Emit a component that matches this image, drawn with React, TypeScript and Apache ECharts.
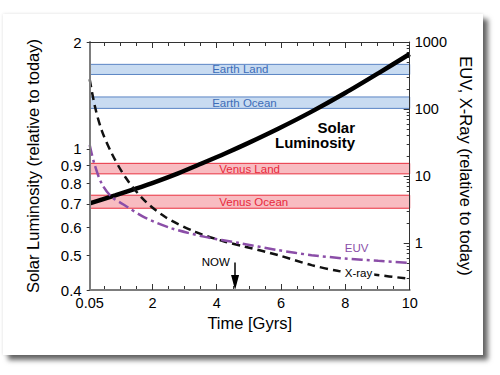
import React, { useEffect, useRef } from "react";
import * as echarts from "echarts";

// ---------- data ----------
const timeLabels = [0.05, 2, 4, 6, 8, 10];
const timeMajorTicks = [2, 4, 6, 8, 10];
const timeMinorTicks = [0.5, 1, 1.5, 2.5, 3, 3.5, 4.5, 5, 5.5, 6.5, 7, 7.5, 8.5, 9, 9.5];
const lumTicks = [0.4, 0.5, 0.6, 0.7, 0.8, 0.9, 1, 2];
const fluxMajorTicks = [1, 10, 100, 1000];
const fluxMinorTicks = [
  0.2, 0.3, 0.4, 0.5, 0.6, 0.7, 0.8, 0.9,
  2, 3, 4, 5, 6, 7, 8, 9,
  20, 30, 40, 50, 60, 70, 80, 90,
  200, 300, 400, 500, 600, 700, 800, 900,
];

const solarTime = [0.05, 0.84, 1.46, 2.08, 2.8, 3.53, 4.26, 4.94, 5.91, 6.95, 7.99, 9.02, 10];
const solarLum = [0.702, 0.739, 0.771, 0.806, 0.853, 0.909, 0.97, 1.034, 1.139, 1.273, 1.436, 1.632, 1.85];

const xrayTime = [0.05, 0.215, 0.42, 0.735, 1.15, 1.72, 2.39, 3.33, 4.26, 4.88, 5.91, 6.95, 7.79, 8.87, 10];
const xrayFlux = [277, 108, 48.6, 21.8, 9.77, 4.49, 2.47, 1.475, 1.05, 0.885, 0.662, 0.47, 0.385, 0.34, 0.293];

const euvTime = [0.05, 0.19, 0.42, 0.73, 1.15, 1.77, 2.6, 3.64, 4.67, 5.91, 6.95, 7.99, 9.02, 10];
const euvFlux = [29, 15.5, 7.78, 4.91, 3.65, 2.4, 1.66, 1.24, 1.01, 0.787, 0.662, 0.59, 0.544, 0.508];

const bandNames = ["Earth Land", "Earth Ocean", "Venus Land", "Venus Ocean"];
const bandLow = [1.62, 1.3, 0.85, 0.68];
const bandHigh = [1.73, 1.4, 0.91, 0.74];
const bandPlanet = ["earth", "earth", "venus", "venus"];

const NOW_GYR = 4.57;
const NOW_ARROW_TOP = 0.478;
const NOW_ARROW_HEAD = 0.42;

// ---------- styles ----------
const FONT = "'Liberation Sans', Arial, Helvetica, sans-serif";
const bandStyle: Record<string, any> = {
  earth: { fill: "#c8dbf1", edge: "#5b85c4", text: "#3d6db8", labelX: 123 },
  venus: { fill: "#f8bcc1", edge: "#e8303f", text: "#e8283b", labelX: 130 },
};

export default function App() {
  const ref = useRef<HTMLDivElement>(null);

  useEffect(() => {
    if (!ref.current) return;
    const chart = echarts.init(ref.current, undefined, { renderer: "svg" });

    const tickColor = "#333";
    const labelFont = { fontFamily: FONT, color: "#000" };

    const xBase = { type: "value", min: 0.05, max: 10, gridIndex: 0, splitLine: { show: false } };
    const lumBase = { type: "log", logBase: 10, min: 0.4, max: 2, splitLine: { show: false } };
    const fluxBase = { type: "log", logBase: 10, min: 0.2, max: 1000, splitLine: { show: false } };

    const bandAreas = bandNames.map((name, i) => {
      const st = bandStyle[bandPlanet[i]];
      return [
        {
          yAxis: bandLow[i],
          name,
          itemStyle: { color: st.fill, borderColor: st.edge, borderWidth: 1 },
          label: {
            show: true,
            position: [st.labelX, "50%"],
            align: "left",
            verticalAlign: "middle",
            color: st.text,
            fontSize: 11.5,
            fontFamily: FONT,
            formatter: name,
          },
        },
        { yAxis: bandHigh[i] },
      ];
    });

    const option: any = {
      animation: false,
      grid: { left: 89.7, right: 90.3, top: 42, bottom: 85, outerBoundsMode: "none" },
      xAxis: [
        {
          ...xBase,
          position: "bottom",
          z: 5,
          name: "Time [Gyrs]",
          nameLocation: "middle",
          nameGap: 22,
          nameTextStyle: { fontSize: 16.5, fontFamily: FONT, color: "#000" },
          axisLine: { show: true, lineStyle: { color: "#7d7d7d", width: 2 } },
          axisTick: { show: true, inside: true, length: 6, customValues: timeMajorTicks, lineStyle: { color: tickColor, width: 1 } },
          axisLabel: { show: true, customValues: timeLabels, fontSize: 14.5, margin: 5, ...labelFont, formatter: (v: number) => String(v) },
        },
        {
          ...xBase,
          position: "bottom",
          axisLine: { show: false },
          axisTick: { show: true, inside: true, length: 4, customValues: timeMinorTicks, lineStyle: { color: tickColor, width: 1 } },
          axisLabel: { show: false },
        },
        {
          ...xBase,
          position: "top",
          z: 5,
          axisLine: { show: true, lineStyle: { color: tickColor, width: 1 } },
          axisTick: { show: true, inside: true, length: 6, customValues: timeMajorTicks, lineStyle: { color: tickColor, width: 1 } },
          axisLabel: { show: false },
        },
        {
          ...xBase,
          position: "top",
          axisLine: { show: false },
          axisTick: { show: true, inside: true, length: 4, customValues: timeMinorTicks, lineStyle: { color: tickColor, width: 1 } },
          axisLabel: { show: false },
        },
      ],
      yAxis: [
        {
          ...lumBase,
          position: "left",
          z: 5,
          name: "Solar Luminosity (relative to today)",
          nameLocation: "middle",
          nameGap: 48,
          nameTextStyle: { fontSize: 16.5, fontFamily: FONT, color: "#000" },
          axisLine: { show: true, lineStyle: { color: "#7d7d7d", width: 2 } },
          axisTick: { show: true, inside: false, length: 3, customValues: lumTicks, lineStyle: { color: tickColor, width: 1 } },
          axisLabel: { show: true, customValues: lumTicks, fontSize: 15, margin: 8, ...labelFont, formatter: (v: number) => String(v) },
        },
        {
          ...fluxBase,
          position: "right",
          z: 5,
          name: "EUV, X-Ray (relative to today)",
          nameLocation: "middle",
          nameRotate: -90,
          nameGap: 38,
          nameTextStyle: { fontSize: 16.5, fontFamily: FONT, color: "#000" },
          axisLine: { show: true, lineStyle: { color: tickColor, width: 1 } },
          axisTick: { show: true, inside: true, length: 6, customValues: fluxMajorTicks, lineStyle: { color: tickColor, width: 1 } },
          axisLabel: { show: true, customValues: fluxMajorTicks, fontSize: 14.5, margin: 5, ...labelFont, formatter: (v: number) => String(v) },
        },
        {
          ...fluxBase,
          position: "right",
          axisLine: { show: false },
          axisTick: { show: true, inside: true, length: 3, customValues: fluxMinorTicks, lineStyle: { color: tickColor, width: 1 } },
          axisLabel: { show: false },
        },
      ],
      series: [
        {
          name: "Solar Luminosity",
          type: "line",
          xAxisIndex: 0,
          yAxisIndex: 0,
          data: solarTime.map((t, i) => [t, solarLum[i]]),
          smooth: 0.3,
          symbol: "none",
          lineStyle: { color: "#000", width: 4.5 },
          z: 3,
          markArea: { silent: true, data: bandAreas },
          markLine: {
            silent: true,
            symbol: ["none", "triangle"],
            symbolSize: [8, 15],
            label: { show: false },
            lineStyle: { type: "solid", width: 1.5, color: "#000" },
            data: [[{ coord: [NOW_GYR, NOW_ARROW_TOP] }, { coord: [NOW_GYR, NOW_ARROW_HEAD] }]],
          },
        },
        {
          name: "X-ray",
          type: "line",
          xAxisIndex: 0,
          yAxisIndex: 1,
          data: xrayTime.map((t, i) => [t, xrayFlux[i]]),
          smooth: 0.3,
          symbol: "none",
          lineStyle: { color: "#111", width: 2.5, type: [8, 5] },
        },
        {
          name: "EUV",
          type: "line",
          xAxisIndex: 0,
          yAxisIndex: 1,
          data: euvTime.map((t, i) => [t, euvFlux[i]]),
          smooth: 0.3,
          symbol: "none",
          lineStyle: { color: "#8b4ea8", width: 2.5, type: [11, 4, 3, 4] },
        },
      ],
      graphic: [
        {
          type: "text",
          x: 355,
          y: 119.5,
          z: 10,
          style: {
            text: "Solar\nLuminosity",
            align: "right",
            verticalAlign: "top",
            fontSize: 15,
            fontWeight: "bold",
            fontFamily: FONT,
            lineHeight: 15.5,
            fill: "#000",
          },
        },
        {
          type: "text",
          x: 356.7,
          y: 248,
          z: 10,
          style: { text: "EUV", align: "center", verticalAlign: "middle", fontSize: 11.5, fontFamily: FONT, fill: "#8b4ea8" },
        },
        {
          type: "text",
          x: 358.5,
          y: 272.5,
          z: 10,
          style: {
            text: "X-ray",
            align: "center",
            verticalAlign: "middle",
            fontSize: 11.5,
            fontFamily: FONT,
            fill: "#000",
            backgroundColor: "#fff",
            padding: [1, 2],
          },
        },
        {
          type: "text",
          x: 215.8,
          y: 261.7,
          z: 10,
          style: { text: "NOW", align: "center", verticalAlign: "middle", fontSize: 11.5, fontFamily: FONT, fill: "#000" },
        },
      ],
    };

    chart.setOption(option);
    return () => chart.dispose();
  }, []);

  return (
    <div style={{ position: "fixed", left: 0, top: 0, width: 500, height: 375, background: "#fff", overflow: "hidden" }}>
      <div
        style={{
          position: "absolute",
          left: 3,
          top: 14,
          width: 480,
          height: 341,
          background: "#fff",
          boxShadow: "5px 5px 5px rgba(0,0,0,0.6), 0 0 3px rgba(0,0,0,0.12)",
        }}
      />
      <div ref={ref} style={{ position: "absolute", left: 0, top: 0, width: 500, height: 375 }} />
    </div>
  );
}
